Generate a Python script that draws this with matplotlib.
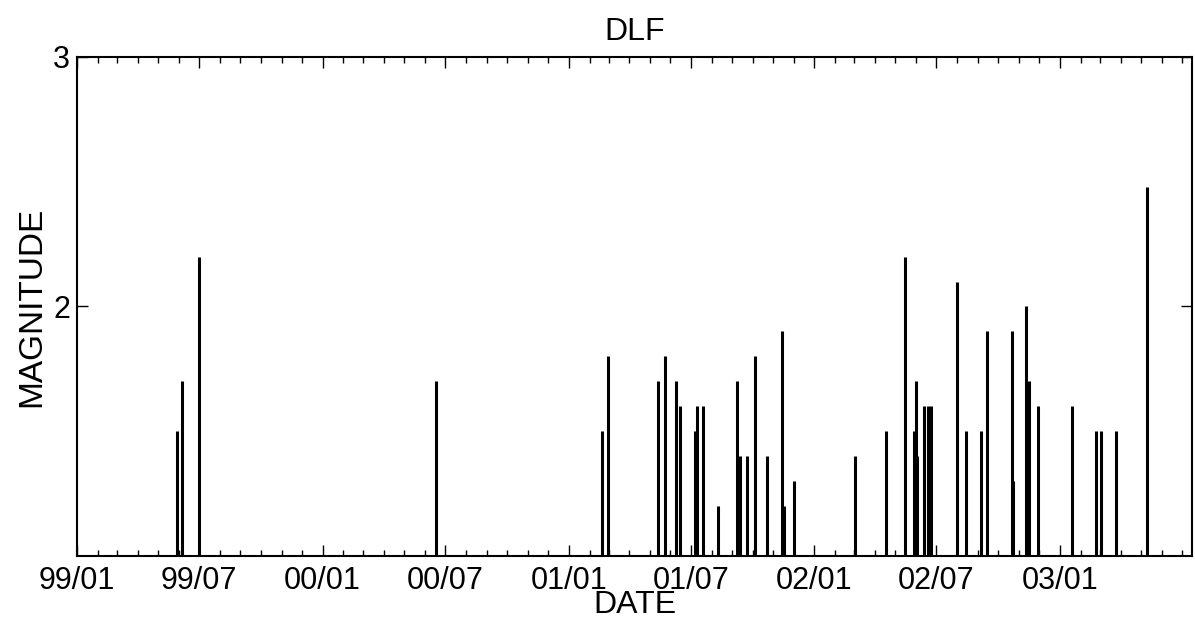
import numpy as np
import pandas as pd
import matplotlib
matplotlib.use('Agg')
import matplotlib.pyplot as plt
import matplotlib.dates as mdates

# event dates and magnitudes
dates = ['1999-05-30', '1999-06-06', '1999-07-01', '2000-06-17',
         '2001-02-19', '2001-02-28', '2001-05-13', '2001-05-24', '2001-06-09',
         '2001-06-15', '2001-07-07', '2001-07-10', '2001-07-19', '2001-08-11',
         '2001-09-08', '2001-09-12', '2001-09-23', '2001-10-04', '2001-10-22',
         '2001-11-14', '2001-11-16', '2001-12-01', '2002-03-02', '2002-04-18',
         '2002-05-16', '2002-05-29', '2002-06-01', '2002-06-03', '2002-06-13',
         '2002-06-18', '2002-06-23', '2002-08-01', '2002-08-14', '2002-09-05',
         '2002-09-14', '2002-10-22', '2002-10-23', '2002-11-12', '2002-11-16',
         '2002-11-29', '2003-01-19', '2003-02-23', '2003-03-03', '2003-03-25',
         '2003-05-10']
magnitudes = [1.5, 1.7, 2.2, 1.7,
              1.5, 1.8, 1.7, 1.8, 1.7,
              1.6, 1.5, 1.6, 1.6, 1.2,
              1.7, 1.4, 1.4, 1.8, 1.4,
              1.9, 1.2, 1.3, 1.4, 1.5,
              2.2, 1.5, 1.7, 1.4, 1.6,
              1.6, 1.6, 2.1, 1.5, 1.5,
              1.9, 1.9, 1.3, 2.0, 1.7,
              1.6, 1.6, 1.5, 1.5, 1.5,
              2.48]
x_ticks = ['1999-01-01', '1999-07-01', '2000-01-01', '2000-07-01', '2001-01-01',
           '2001-07-01', '2002-01-01', '2002-07-01', '2003-01-01']
y_ticks = [2, 3]

t = pd.to_datetime(dates)
m = np.array(magnitudes)

font = ['Liberation Sans', 'DejaVu Sans']

fig = plt.figure(figsize=(11.95, 6.18), dpi=100)
ax = fig.add_axes([0.0644, 0.1003, 0.9331, 0.8075])

ax.vlines(t, 1, m, color='black', linewidth=2.2)

ax.set_xlim(pd.Timestamp('1999-01-01'), pd.Timestamp('2003-07-16'))
ax.set_ylim(1, 3)
ax.set_yticks(y_ticks)

ax.set_xticks(pd.to_datetime(x_ticks))
ax.xaxis.set_minor_locator(mdates.MonthLocator())
ax.xaxis.set_major_formatter(mdates.DateFormatter('%y/%m'))

ax.tick_params(which='both', direction='in', top=True, right=True, width=1, colors='black')
ax.tick_params(which='major', length=8, labelsize=22)
ax.tick_params(axis='x', which='major', pad=7)
ax.tick_params(axis='y', which='major', pad=5)
ax.tick_params(which='minor', length=4)
for lab in ax.get_xticklabels() + ax.get_yticklabels():
    lab.set_family(font)
for s in ax.spines.values():
    s.set_linewidth(1.5)

ax.set_title('DLF', fontsize=23, family=font, pad=12)
ax.set_xlabel('DATE', fontsize=23, family=font)
ax.xaxis.set_label_coords(0.5, -0.068)
ax.set_ylabel('MAGNITUDE', fontsize=24, family=font, labelpad=4)

fig.savefig('out.png', dpi=100)
